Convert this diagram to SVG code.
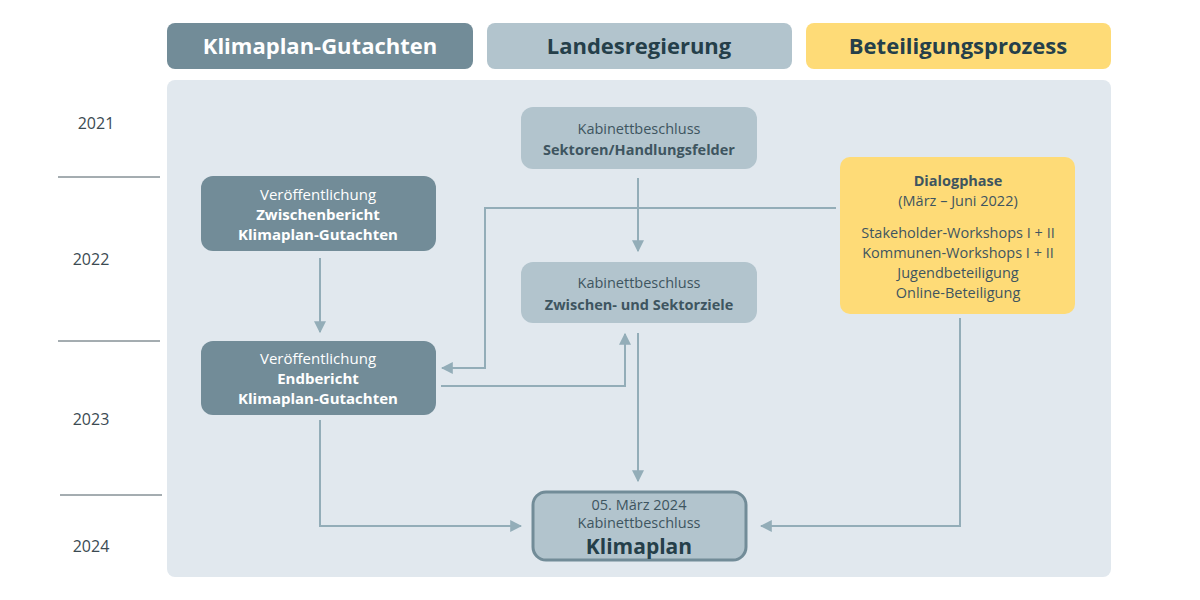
<svg xmlns="http://www.w3.org/2000/svg" width="1200" height="600" viewBox="0 0 1200 600">
<style>
text{font-family:"Open Sans","Noto Sans",sans-serif;text-anchor:middle}
.h{font-size:22px;font-weight:bold}
.y{font-size:16px;fill:#3b4a52;text-anchor:middle}
.w{fill:#fff;font-size:15px}
.d{fill:#3e5560;font-size:14.5px}
.b{font-weight:bold}
.c{fill:none;stroke:#93adb8;stroke-width:2}
</style>
<defs><marker id="a" viewBox="0 0 10 10" refX="9" refY="5" markerWidth="6" markerHeight="6" orient="auto"><path d="M0,0L10,5L0,10z" fill="#93adb8"/></marker></defs>
<rect width="1200" height="600" fill="#fff"/>
<g id="headers">
<rect x="167" y="23" width="306" height="46" rx="8" fill="#728c98"/><text class="h" x="320" y="54" fill="#fff">Klimaplan-Gutachten</text>
<rect x="487" y="23" width="305" height="46" rx="8" fill="#b2c4cd"/><text class="h" x="639" y="54" fill="#253f4a">Landesregierung</text>
<rect x="806" y="23" width="305" height="46" rx="8" fill="#fedb77"/><text class="h" x="958" y="54" fill="#253f4a">Beteiligungsprozess</text>
</g>
<rect x="167" y="80" width="944" height="497" rx="8" fill="#e1e8ee"/>
<g id="years">
<text class="y" x="96" y="129">2021</text><text class="y" x="91" y="265">2022</text><text class="y" x="91" y="425">2023</text><text class="y" x="91" y="552">2024</text>
<path d="M58 177H160M58 341H160M60 495H162" stroke="#4a5a62" stroke-width="1"/>
</g>
<g id="connectors">
<path class="c" d="M320 258V332" marker-end="url(#a)"/>
<path class="c" d="M638 178V251" marker-end="url(#a)"/>
<path class="c" d="M836 208H485V368H442" marker-end="url(#a)"/>
<path class="c" d="M441 386H625V334" marker-end="url(#a)"/>
<path class="c" d="M638 333V481" marker-end="url(#a)"/>
<path class="c" d="M320 420V526H521" marker-end="url(#a)"/>
<path class="c" d="M960 318V526H761" marker-end="url(#a)"/>
</g>
<g id="n1"><rect x="201" y="176" width="235" height="75" rx="12" fill="#728c98"/>
<text class="w" x="318" y="200">Veröffentlichung</text><text class="w b" x="318" y="220">Zwischenbericht</text><text class="w b" x="318" y="240">Klimaplan-Gutachten</text></g>
<g id="n2"><rect x="201" y="341" width="235" height="74" rx="12" fill="#728c98"/>
<text class="w" x="318" y="364">Veröffentlichung</text><text class="w b" x="318" y="384">Endbericht</text><text class="w b" x="318" y="404">Klimaplan-Gutachten</text></g>
<g id="n3"><rect x="521" y="107" width="236" height="62" rx="12" fill="#b2c4cd"/>
<text class="d" x="639" y="134">Kabinettbeschluss</text><text class="d b" x="639" y="155">Sektoren/Handlungsfelder</text></g>
<g id="n4"><rect x="521" y="262" width="236" height="61" rx="12" fill="#b2c4cd"/>
<text class="d" x="639" y="288">Kabinettbeschluss</text><text class="d b" x="639" y="310">Zwischen- und Sektorziele</text></g>
<g id="n5"><rect x="840" y="157" width="235" height="157" rx="10" fill="#fedb77"/>
<text class="d b" x="958" y="186">Dialogphase</text><text class="d" x="958" y="206">(März – Juni 2022)</text>
<text class="d" x="958" y="238">Stakeholder-Workshops I + II</text><text class="d" x="958" y="258">Kommunen-Workshops I + II</text><text class="d" x="958" y="278">Jugendbeteiligung</text><text class="d" x="958" y="298">Online-Beteiligung</text></g>
<g id="n6"><rect x="533" y="492" width="213" height="68" rx="13" fill="#b2c4cd" stroke="#728c98" stroke-width="3"/>
<text class="d" x="639" y="510">05. März 2024</text><text class="d" x="639" y="528">Kabinettbeschluss</text><text class="b" x="639" y="554" font-size="21" fill="#253f4a">Klimaplan</text></g>
</svg>
